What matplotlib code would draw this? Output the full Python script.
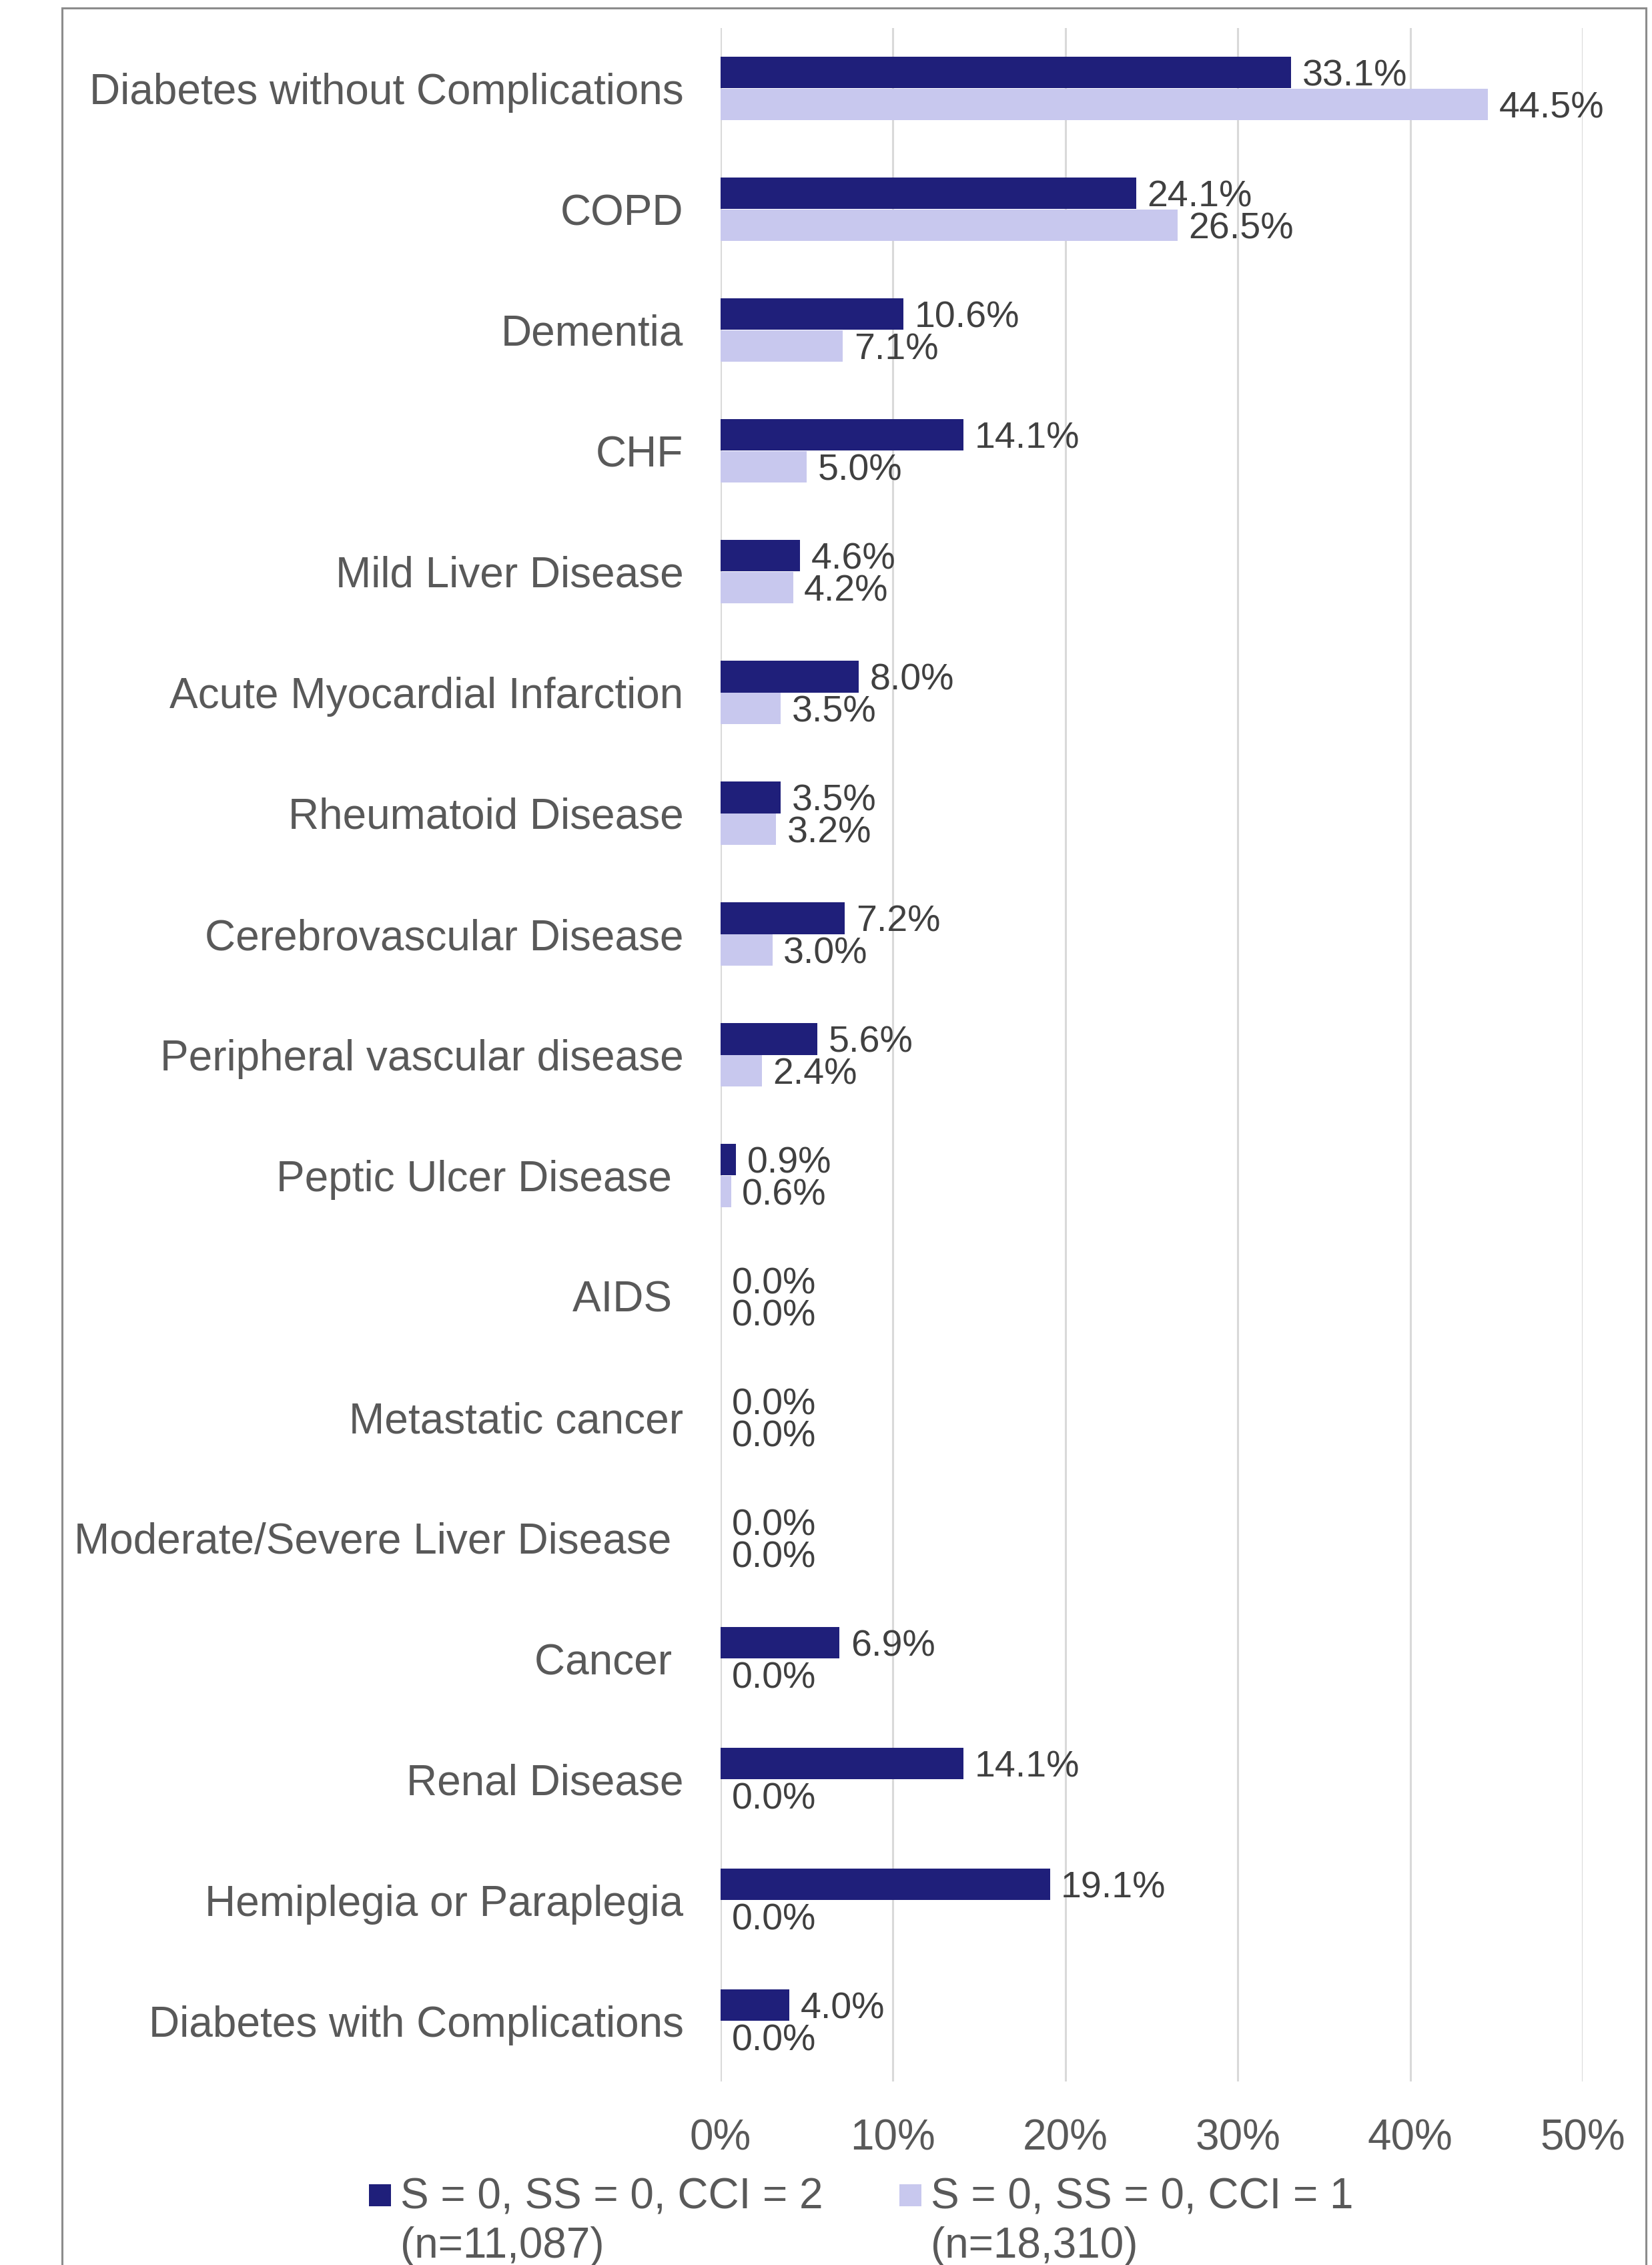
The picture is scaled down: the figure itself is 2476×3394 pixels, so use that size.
import matplotlib
matplotlib.use("Agg")
import matplotlib.pyplot as plt
from matplotlib.patches import Rectangle
from matplotlib.ticker import FuncFormatter
import numpy as np

plt.rcParams['font.family'] = ['Liberation Sans', 'DejaVu Sans']

categories = ["Diabetes without Complications", "COPD", "Dementia", "CHF",
              "Mild Liver Disease", "Acute Myocardial Infarction",
              "Rheumatoid Disease", "Cerebrovascular Disease",
              "Peripheral vascular disease", "Peptic Ulcer Disease ", "AIDS ",
              "Metastatic cancer", "Moderate/Severe Liver Disease ", "Cancer ",
              "Renal Disease", "Hemiplegia or Paraplegia",
              "Diabetes with Complications"]
cci2 = [33.1, 24.1, 10.6, 14.1, 4.6, 8.0, 3.5, 7.2, 5.6, 0.9, 0.0, 0.0, 0.0,
        6.9, 14.1, 19.1, 4.0]
cci1 = [44.5, 26.5, 7.1, 5.0, 4.2, 3.5, 3.2, 3.0, 2.4, 0.6, 0.0, 0.0, 0.0,
        0.0, 0.0, 0.0, 0.0]
series_names = ["S = 0, SS = 0, CCI = 2\n(n=11,087)",
                "S = 0, SS = 0, CCI = 1\n(n=18,310)"]
xticks = [0, 10, 20, 30, 40, 50]

dark = "#1F1F7A"
light = "#C8C8EE"
label_grey = "#595959"
value_grey = "#404040"

W, H = 2476, 3394
fig = plt.figure(figsize=(W / 100, H / 100), dpi=100)
ax = fig.add_axes([1080 / W, 1 - 3119 / H, (2372 - 1080) / W, (3119 - 42) / H])

y = np.arange(len(categories))
bh = 0.263
b1 = ax.barh(y - bh / 2, cci2, height=bh, color=dark, linewidth=0, zorder=3)
b2 = ax.barh(y + bh / 2, cci1, height=bh, color=light, linewidth=0, zorder=3)

for bars, vals in ((b1, cci2), (b2, cci1)):
    for rect, v in zip(bars, vals):
        ax.annotate("%.1f%%" % v, (rect.get_width(), rect.get_y() + rect.get_height() / 2),
                    xytext=(12, 0), textcoords="offset points", ha="left",
                    va="center_baseline", fontsize=40, color=value_grey, zorder=4)

ax.set_xlim(0, 50)
ax.set_ylim(len(categories) - 0.5, -0.5)
ax.set_xticks(xticks)
ax.xaxis.set_major_formatter(FuncFormatter(lambda v, p: "%d%%" % v))
ax.set_yticks(y)
ax.set_yticklabels(categories)
ax.tick_params(axis="y", length=0, pad=40, labelsize=46, labelcolor=label_grey)
ax.tick_params(axis="x", length=0, pad=40, labelsize=46, labelcolor=label_grey)
ax.grid(axis="x", color="#D9D9D9", linewidth=2.2, zorder=0)
ax.set_axisbelow(True)
for s in ax.spines.values():
    s.set_visible(False)

# legend drawn by hand so the marker sits beside the first line
leg_x = [553, 1348]
for xx, name, col in zip(leg_x, series_names, [dark, light]):
    fig.patches.append(Rectangle((xx / W, 1 - 3306 / H), 33 / W, 33 / H,
                                 transform=fig.transFigure, facecolor=col,
                                 edgecolor="none"))
    fig.text((xx + 47) / W, 1 - 3262 / H, name, fontsize=46, color=label_grey,
             ha="left", va="top", linespacing=1.3)

# outer frame of the chart
fig.patches.append(Rectangle((93 / W, -0.01), (2467 - 93) / W, 1.01 - 12 / H,
                             transform=fig.transFigure, facecolor="none",
                             edgecolor="#8C8C8C", linewidth=2.2, clip_on=False))

fig.savefig("out.png", dpi=100, facecolor="white")
